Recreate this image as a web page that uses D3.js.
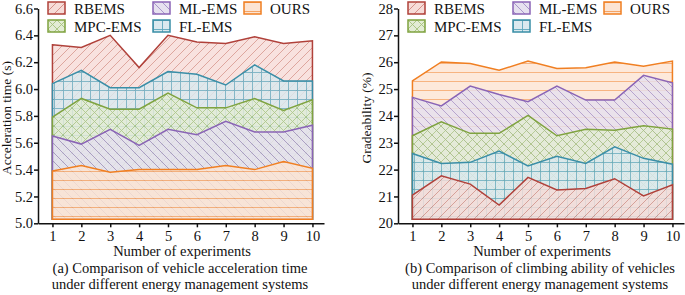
<!DOCTYPE html>
<html>
<head>
<meta charset="utf-8">
<script src="https://cdn.jsdelivr.net/npm/d3@7"></script>
<style>
  body { margin: 0; background: #fff; }
  svg, svg text { font-family: "Liberation Serif", "Times New Roman", serif; }
</style>
</head>
<body>
<svg id="chart" width="685" height="295"></svg>
<script>
// ---- data ----
const experiments = [1, 2, 3, 4, 5, 6, 7, 8, 9, 10];
const seriesNames = ['RBEMS', 'MPC-EMS', 'ML-EMS', 'FL-EMS', 'OURS'];

// (a) acceleration time (s)
const accRbems = [6.33, 6.31, 6.40, 6.16, 6.40, 6.35, 6.34, 6.39, 6.34, 6.36];
const accMpc   = [5.79, 5.93, 5.85, 5.85, 5.97, 5.86, 5.86, 5.93, 5.84, 5.92];
const accMl    = [5.65, 5.59, 5.70, 5.58, 5.70, 5.66, 5.76, 5.68, 5.68, 5.73];
const accFl    = [6.04, 6.14, 6.01, 6.01, 6.13, 6.11, 6.03, 6.18, 6.06, 6.06];
const accOurs  = [5.39, 5.43, 5.38, 5.40, 5.40, 5.40, 5.43, 5.40, 5.46, 5.41];
const accTicks = [5.0, 5.2, 5.4, 5.6, 5.8, 6.0, 6.2, 6.4, 6.6];
const accFloor = 5.03;

// (b) gradeability (%)
const gradeRbems = [21.05, 21.77, 21.46, 20.68, 21.71, 21.24, 21.30, 21.66, 21.02, 21.43];
const gradeMpc   = [23.26, 23.78, 23.35, 23.35, 24.02, 23.26, 23.50, 23.47, 23.63, 23.51];
const gradeMl    = [24.69, 24.37, 25.11, 24.80, 24.53, 25.11, 24.59, 24.59, 25.51, 25.23];
const gradeFl    = [22.60, 22.23, 22.27, 22.69, 22.14, 22.50, 22.23, 22.85, 22.42, 22.20];
const gradeOurs  = [25.30, 26.01, 25.95, 25.70, 26.04, 25.77, 25.79, 26.01, 25.85, 26.04];
const gradeTicks = [20, 21, 22, 23, 24, 25, 26, 27, 28];
const gradeFloor = 20.15;

// ---- styles ----
const styles = {
  'RBEMS':   { line: '#b0413a', bg: '#f6dcd8', hatch: '#d38a80', kind: 'fwd' },
  'MPC-EMS': { line: '#7fa33f', bg: '#e3ecd5', hatch: '#a6c37a', kind: 'cross' },
  'ML-EMS':  { line: '#8a64b6', bg: '#e6e1ef', hatch: '#a18cc7', kind: 'back' },
  'FL-EMS':  { line: '#3a8ea7', bg: '#dae9ef', hatch: '#5ea6bd', kind: 'grid' },
  'OURS':    { line: '#f07f22', bg: '#fce4d3', hatch: '#f49d58', kind: 'horiz' }
};
const patternId = name => 'pat-' + name.replace(/[^a-z]/gi, '');

const svg = d3.select('#chart');
const defs = svg.append('defs');
const S = 9;
seriesNames.forEach(name => {
  const st = styles[name];
  const p = defs.append('pattern')
    .attr('id', patternId(name))
    .attr('patternUnits', 'userSpaceOnUse')
    .attr('width', S).attr('height', S);
  p.append('rect').attr('width', S).attr('height', S).attr('fill', st.bg);
  const paths = {
    fwd: `M0,${S} L${S},0 M-2,2 L2,-2 M${S - 2},${S + 2} L${S + 2},${S - 2}`,
    back: `M0,0 L${S},${S} M-2,${S - 2} L2,${S + 2} M${S - 2},-2 L${S + 2},2`,
    grid: `M0,0.5 H${S} M0.5,0 V${S}`,
    horiz: `M0,0.5 H${S}`
  };
  const d = st.kind === 'cross' ? paths.fwd + ' ' + paths.back : paths[st.kind];
  p.append('path').attr('d', d)
    .attr('stroke', st.hatch).attr('stroke-width', 0.9).attr('fill', 'none');
});

const areaPanel = (parent, props) => {
  const { offsetX, series, ticks, floor, tickFormat, yLabel, caption } = props;

  const x = d3.scaleLinear().domain([0.5, 10.4]).range([offsetX + 38, offsetX + 324]);
  const y = d3.scaleLinear().domain([ticks[0], ticks[ticks.length - 1]]).range([223.3, 8.5]);

  const g = parent.append('g');

  // biggest series first so the smaller ones sit on top
  const ordered = series.slice().sort((a, b) => d3.mean(b.values) - d3.mean(a.values));
  const area = d3.area()
    .x((d, i) => x(experiments[i]))
    .y0(y(floor))
    .y1(d => y(d));

  g.selectAll('path.area').data(ordered).enter().append('path')
    .attr('class', 'area')
    .attr('d', d => area(d.values))
    .attr('fill', d => `url(#${patternId(d.name)})`)
    .attr('fill-opacity', 0.82)
    .attr('stroke', d => styles[d.name].line)
    .attr('stroke-width', 1.5)
    .attr('stroke-linejoin', 'miter');

  // axes
  const yAxis = g.append('g')
    .attr('transform', `translate(${offsetX + 38},0)`)
    .call(d3.axisLeft(y).tickValues(ticks).tickFormat(tickFormat).tickSize(4).tickSizeOuter(0));
  const xAxis = g.append('g')
    .attr('transform', 'translate(0,223.3)')
    .call(d3.axisBottom(x).tickValues(experiments).tickSize(4).tickSizeOuter(0));
  [yAxis, xAxis].forEach(a => {
    a.attr('font-family', null).attr('font-size', null);
    a.selectAll('path, line').attr('stroke', '#111').attr('stroke-width', 1.5);
    a.selectAll('text').attr('font-size', 14.5).attr('fill', '#111');
  });
  yAxis.selectAll('text').attr('x', -5);
  xAxis.selectAll('text').attr('y', 7);

  // titles
  g.append('text')
    .attr('transform', `translate(${offsetX + 10.5},118) rotate(-90)`)
    .attr('text-anchor', 'middle').attr('font-size', 13.5).attr('fill', '#111')
    .text(yLabel);
  g.append('text')
    .attr('x', offsetX + 182).attr('y', 256)
    .attr('text-anchor', 'middle').attr('font-size', 14.5).attr('fill', '#111')
    .text('Number of experiments');
  caption.forEach((line, i) => {
    g.append('text')
      .attr('x', offsetX + 180).attr('y', 272.5 + i * 16.5)
      .attr('text-anchor', 'middle').attr('font-size', 14.5).attr('fill', '#111')
      .text(line);
  });

  // legend: two rows, filled column by column
  const colX = [48, 153, 244];
  const leg = g.selectAll('g.leg').data(seriesNames).enter().append('g')
    .attr('class', 'leg')
    .attr('transform', (d, i) => `translate(${offsetX + colX[Math.floor(i / 2)]},${2 + (i % 2) * 18})`);
  leg.append('rect')
    .attr('width', 17).attr('height', 12)
    .attr('fill', d => `url(#${patternId(d)})`)
    .attr('stroke', d => styles[d].line).attr('stroke-width', 1.5);
  leg.append('text')
    .attr('x', 26).attr('y', 11.5)
    .attr('font-size', 15).attr('fill', '#111')
    .text(d => d);
};

areaPanel(svg, {
  offsetX: 0,
  series: [
    { name: 'RBEMS', values: accRbems },
    { name: 'MPC-EMS', values: accMpc },
    { name: 'ML-EMS', values: accMl },
    { name: 'FL-EMS', values: accFl },
    { name: 'OURS', values: accOurs }
  ],
  ticks: accTicks,
  floor: accFloor,
  tickFormat: d3.format('.1f'),
  yLabel: 'Acceleration time (s)',
  caption: ['(a) Comparison of vehicle acceleration time',
            'under different energy management systems']
});

areaPanel(svg, {
  offsetX: 360,
  series: [
    { name: 'RBEMS', values: gradeRbems },
    { name: 'MPC-EMS', values: gradeMpc },
    { name: 'ML-EMS', values: gradeMl },
    { name: 'FL-EMS', values: gradeFl },
    { name: 'OURS', values: gradeOurs }
  ],
  ticks: gradeTicks,
  floor: gradeFloor,
  tickFormat: d3.format('d'),
  yLabel: 'Gradeability (%)',
  caption: ['(b) Comparison of climbing ability of vehicles',
            'under different energy management systems']
});
</script>
</body>
</html>
